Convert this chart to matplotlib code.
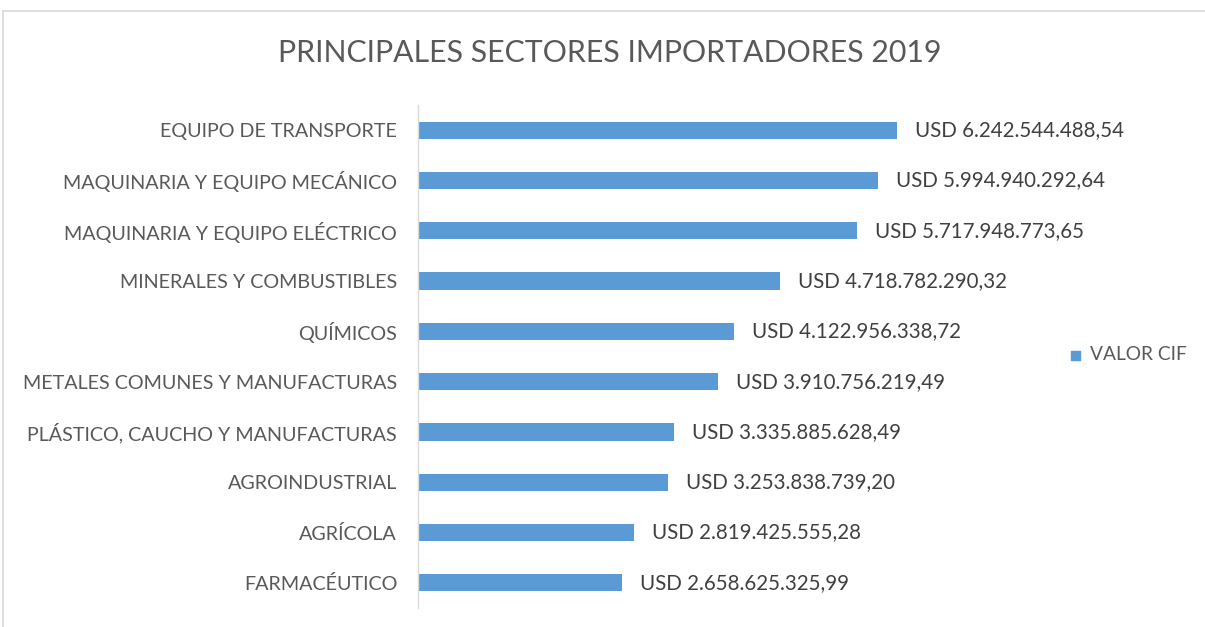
import matplotlib
matplotlib.use("Agg")
import matplotlib.pyplot as plt
from matplotlib.patches import Patch
from matplotlib.lines import Line2D

categories = ['EQUIPO DE TRANSPORTE', 'MAQUINARIA Y EQUIPO MECÁNICO', 'MAQUINARIA Y EQUIPO ELÉCTRICO',
              'MINERALES Y COMBUSTIBLES', 'QUÍMICOS', 'METALES COMUNES Y MANUFACTURAS',
              'PLÁSTICO, CAUCHO Y MANUFACTURAS', 'AGROINDUSTRIAL', 'AGRÍCOLA', 'FARMACÉUTICO']
values = [6242544488.54, 5994940292.64, 5717948773.65, 4718782290.32, 4122956338.72,
          3910756219.49, 3335885628.49, 3253838739.20, 2819425555.28, 2658625325.99]
series_name = 'VALOR CIF'
title = 'PRINCIPALES SECTORES IMPORTADORES 2019'

FAM = ['Lato', 'DejaVu Sans']
plt.rcParams['font.family'] = FAM
BLUE = '#5B9BD5'
GRAY = '#595959'

W, H = 1205, 627
fig = plt.figure(figsize=(W / 100, H / 100), dpi=100)
xmax = 7e9
right_px = 418 + xmax * (897 - 418) / values[0]
ax = fig.add_axes([418 / W, (H - 608) / H, (right_px - 418) / W, (608 - 105) / H])

n = len(categories)
ypos = list(range(n))
ax.barh(ypos, values, height=0.34, color=BLUE)
ax.set_ylim(n - 0.5, -0.5)
ax.set_xlim(0, xmax)
ax.set_yticks(ypos)
ax.set_yticklabels(categories, color=GRAY)
ax.tick_params(axis='y', length=0, pad=15)
ax.set_xticks([])
for s in ['top', 'right', 'bottom']:
    ax.spines[s].set_visible(False)
ax.spines['left'].set_color('#D9D9D9')
ax.spines['left'].set_linewidth(1)

def fmt(v):
    s = f"{v:,.2f}"
    s = s.replace(',', 'X').replace('.', ',').replace('X', '.')
    return 'USD ' + s

vtexts = []
for y, v in zip(ypos, values):
    t = ax.annotate(fmt(v), (v, y), xytext=(13, 0), textcoords='offset points',
                    va='center', ha='left', color='#404040')
    vtexts.append(t)

ttl = fig.text(610 / W, 1 - 53 / H, title, ha='center', va='center', color=GRAY)

# border
fig.add_artist(Line2D([3 / W, 1], [1 - 11 / H, 1 - 11 / H], color='#D9D9D9', lw=1.2, transform=fig.transFigure))
fig.add_artist(Line2D([3 / W, 3 / W], [0, 1 - 11 / H], color='#D9D9D9', lw=1.2, transform=fig.transFigure))

# fit font sizes to measured widths
def fit(texts, ref_text, target, start=12):
    for t in texts:
        t.set_fontsize(start)
    fig.canvas.draw()
    r = fig.canvas.get_renderer()
    w = ref_text.get_window_extent(r).width
    size = start * target / w
    for t in texts:
        t.set_fontsize(size)
    return size

fit([ttl], ttl, 662, 20)
ticks = ax.get_yticklabels()
fit(ticks, ticks[1], 334, 12)
fit(vtexts, vtexts[0], 208, 12)

# legend text
lt = fig.text(1090 / W, 1 - 355 / H, series_name, ha='left', va='center', color=GRAY)
fit([lt], lt, 96, 12)
fig.add_artist(plt.Rectangle((1071 / W, 1 - 360 / H), 9 / W, 9 / H, color=BLUE,
                             transform=fig.transFigure))

fig.savefig('out.png', dpi=100, facecolor='white')
